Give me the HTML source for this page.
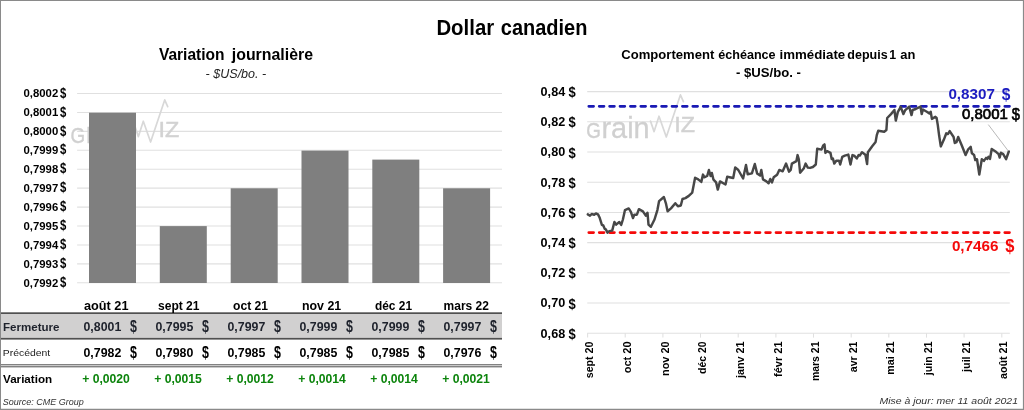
<!DOCTYPE html>
<html lang="fr"><head><meta charset="utf-8"><title>Dollar canadien</title>
<style>html,body{margin:0;padding:0;background:#fff}body{width:1024px;height:410px;overflow:hidden}svg{display:block;will-change:transform}text{font-family:"Liberation Sans", "DejaVu Sans", sans-serif;white-space:pre}</style></head><body>
<svg width="1024" height="410" viewBox="0 0 1024 410">
<rect x="0" y="0" width="1024" height="410" fill="#fff"/>
<g stroke="#e0e0e0" stroke-width="1.1">
<line x1="77.1" y1="93.50" x2="502" y2="93.50"/>
<line x1="77.1" y1="112.43" x2="502" y2="112.43"/>
<line x1="77.1" y1="131.36" x2="502" y2="131.36"/>
<line x1="77.1" y1="150.29" x2="502" y2="150.29"/>
<line x1="77.1" y1="169.22" x2="502" y2="169.22"/>
<line x1="77.1" y1="188.15" x2="502" y2="188.15"/>
<line x1="77.1" y1="207.08" x2="502" y2="207.08"/>
<line x1="77.1" y1="226.01" x2="502" y2="226.01"/>
<line x1="77.1" y1="244.94" x2="502" y2="244.94"/>
<line x1="77.1" y1="263.87" x2="502" y2="263.87"/>
<line x1="77.1" y1="282.80" x2="502" y2="282.80"/>
</g>
<g>
<text font-weight="bold" fill="#000"><tspan x="23.5" y="97.3" font-size="10.4" textLength="34.7" lengthAdjust="spacingAndGlyphs">0,8002</tspan> <tspan x="59.9" y="97.7" font-size="14" textLength="6.3" lengthAdjust="spacingAndGlyphs">$</tspan></text>
<text font-weight="bold" fill="#000"><tspan x="23.5" y="116.23" font-size="10.4" textLength="34.7" lengthAdjust="spacingAndGlyphs">0,8001</tspan> <tspan x="59.9" y="116.63" font-size="14" textLength="6.3" lengthAdjust="spacingAndGlyphs">$</tspan></text>
<text font-weight="bold" fill="#000"><tspan x="23.5" y="135.16" font-size="10.4" textLength="34.7" lengthAdjust="spacingAndGlyphs">0,8000</tspan> <tspan x="59.9" y="135.56" font-size="14" textLength="6.3" lengthAdjust="spacingAndGlyphs">$</tspan></text>
<text font-weight="bold" fill="#000"><tspan x="23.5" y="154.09" font-size="10.4" textLength="34.7" lengthAdjust="spacingAndGlyphs">0,7999</tspan> <tspan x="59.9" y="154.49" font-size="14" textLength="6.3" lengthAdjust="spacingAndGlyphs">$</tspan></text>
<text font-weight="bold" fill="#000"><tspan x="23.5" y="173.02" font-size="10.4" textLength="34.7" lengthAdjust="spacingAndGlyphs">0,7998</tspan> <tspan x="59.9" y="173.42" font-size="14" textLength="6.3" lengthAdjust="spacingAndGlyphs">$</tspan></text>
<text font-weight="bold" fill="#000"><tspan x="23.5" y="191.95" font-size="10.4" textLength="34.7" lengthAdjust="spacingAndGlyphs">0,7997</tspan> <tspan x="59.9" y="192.35" font-size="14" textLength="6.3" lengthAdjust="spacingAndGlyphs">$</tspan></text>
<text font-weight="bold" fill="#000"><tspan x="23.5" y="210.88" font-size="10.4" textLength="34.7" lengthAdjust="spacingAndGlyphs">0,7996</tspan> <tspan x="59.9" y="211.28" font-size="14" textLength="6.3" lengthAdjust="spacingAndGlyphs">$</tspan></text>
<text font-weight="bold" fill="#000"><tspan x="23.5" y="229.81" font-size="10.4" textLength="34.7" lengthAdjust="spacingAndGlyphs">0,7995</tspan> <tspan x="59.9" y="230.21" font-size="14" textLength="6.3" lengthAdjust="spacingAndGlyphs">$</tspan></text>
<text font-weight="bold" fill="#000"><tspan x="23.5" y="248.74" font-size="10.4" textLength="34.7" lengthAdjust="spacingAndGlyphs">0,7994</tspan> <tspan x="59.9" y="249.14" font-size="14" textLength="6.3" lengthAdjust="spacingAndGlyphs">$</tspan></text>
<text font-weight="bold" fill="#000"><tspan x="23.5" y="267.67" font-size="10.4" textLength="34.7" lengthAdjust="spacingAndGlyphs">0,7993</tspan> <tspan x="59.9" y="268.07" font-size="14" textLength="6.3" lengthAdjust="spacingAndGlyphs">$</tspan></text>
<text font-weight="bold" fill="#000"><tspan x="23.5" y="286.6" font-size="10.4" textLength="34.7" lengthAdjust="spacingAndGlyphs">0,7992</tspan> <tspan x="59.9" y="287.0" font-size="14" textLength="6.3" lengthAdjust="spacingAndGlyphs">$</tspan></text>
</g>
<g transform="translate(-515.7,5)">
<text font-weight="normal" fill="#d0d0d0" stroke="#d0d0d0"><tspan x="586.2" y="138" font-size="22" stroke-width="0.4" textLength="14.6" lengthAdjust="spacingAndGlyphs">G</tspan><tspan x="601.5" y="138" font-size="30" stroke-width="0.3" textLength="48.2" lengthAdjust="spacingAndGlyphs">rain</tspan></text>
<polyline points="650.5,121.1 654.1,131.6 659,116.2 666.3,137 680.4,94.9 683.4,101.6" fill="none" stroke="#d8d8d8" stroke-width="1.7" stroke-linejoin="round" stroke-linecap="round"/>
<text x="674.2" y="131.6" font-size="21.4" font-weight="normal" fill="#d2d2d2" stroke="#d2d2d2" stroke-width="0.4" textLength="20.8" lengthAdjust="spacingAndGlyphs">IZ</text>
</g>
<g fill="#7f7f7f">
<rect x="89.0" y="112.7" width="47" height="170.3"/>
<rect x="159.8" y="226.1" width="47" height="56.9"/>
<rect x="230.7" y="188.3" width="47" height="94.7"/>
<rect x="301.5" y="150.6" width="47" height="132.4"/>
<rect x="372.3" y="159.6" width="47" height="123.4"/>
<rect x="443.1" y="188.3" width="47" height="94.7"/>
</g>
<text font-weight="bold" fill="#000"><tspan x="158.9" y="60" font-size="15.6" textLength="65.6" lengthAdjust="spacingAndGlyphs">Variation</tspan> <tspan x="231.8" y="60" font-size="15.6" textLength="81.2" lengthAdjust="spacingAndGlyphs">journalière</tspan></text>
<text x="205.6" y="77.7" font-size="12" font-weight="normal" fill="#222" font-style="italic" textLength="60.6" lengthAdjust="spacingAndGlyphs">- $US/bo. -</text>
<text font-weight="bold" fill="#000"><tspan x="436.4" y="34.7" font-size="21.4" textLength="57.8" lengthAdjust="spacingAndGlyphs">Dollar</tspan> <tspan x="500.8" y="34.7" font-size="21.4" textLength="86.6" lengthAdjust="spacingAndGlyphs">canadien</tspan></text>
<rect x="1" y="313" width="501" height="25.5" fill="#d1d0d0"/>
<g stroke="#4d4d4d" shape-rendering="crispEdges">
<rect x="0" y="312.3" width="502" height="1.7" fill="#505050" stroke="none" shape-rendering="auto"/>
<rect x="0" y="337.9" width="502" height="1.7" fill="#505050" stroke="none" shape-rendering="auto"/>
<rect x="0" y="364.3" width="502" height="1" fill="#4d4d4d" stroke="none" shape-rendering="auto"/>
<rect x="0" y="366.3" width="502" height="1" fill="#4d4d4d" stroke="none" shape-rendering="auto"/>
</g>
<text x="84" y="309.8" font-size="12" font-weight="bold" fill="#000" textLength="44.5" lengthAdjust="spacingAndGlyphs">août 21</text>
<text x="158" y="309.8" font-size="12" font-weight="bold" fill="#000" textLength="41.5" lengthAdjust="spacingAndGlyphs">sept 21</text>
<text x="233" y="309.8" font-size="12" font-weight="bold" fill="#000" textLength="35" lengthAdjust="spacingAndGlyphs">oct 21</text>
<text x="302" y="309.8" font-size="12" font-weight="bold" fill="#000" textLength="39.2" lengthAdjust="spacingAndGlyphs">nov 21</text>
<text x="375" y="309.8" font-size="12" font-weight="bold" fill="#000" textLength="37" lengthAdjust="spacingAndGlyphs">déc 21</text>
<text x="443.6" y="309.8" font-size="12" font-weight="bold" fill="#000" textLength="45.3" lengthAdjust="spacingAndGlyphs">mars 22</text>
<text font-weight="bold" fill="#1e222c"><tspan x="83.5" y="331" font-size="13.1" textLength="37.8" lengthAdjust="spacingAndGlyphs">0,8001</tspan> <tspan x="130.0" y="331.8" font-size="15.8" textLength="6.9" lengthAdjust="spacingAndGlyphs">$</tspan></text>
<text font-weight="bold" fill="#000"><tspan x="83.5" y="356.8" font-size="13.1" textLength="37.8" lengthAdjust="spacingAndGlyphs">0,7982</tspan> <tspan x="130.0" y="357.6" font-size="15.8" textLength="6.9" lengthAdjust="spacingAndGlyphs">$</tspan></text>
<text x="82.2" y="382.8" font-size="13.3" font-weight="bold" fill="#0c840c" textLength="47.7" lengthAdjust="spacingAndGlyphs">+ 0,0020</text>
<text font-weight="bold" fill="#1e222c"><tspan x="155.5" y="331" font-size="13.1" textLength="37.8" lengthAdjust="spacingAndGlyphs">0,7995</tspan> <tspan x="202.0" y="331.8" font-size="15.8" textLength="6.9" lengthAdjust="spacingAndGlyphs">$</tspan></text>
<text font-weight="bold" fill="#000"><tspan x="155.5" y="356.8" font-size="13.1" textLength="37.8" lengthAdjust="spacingAndGlyphs">0,7980</tspan> <tspan x="202.0" y="357.6" font-size="15.8" textLength="6.9" lengthAdjust="spacingAndGlyphs">$</tspan></text>
<text x="154.2" y="382.8" font-size="13.3" font-weight="bold" fill="#0c840c" textLength="47.7" lengthAdjust="spacingAndGlyphs">+ 0,0015</text>
<text font-weight="bold" fill="#1e222c"><tspan x="227.5" y="331" font-size="13.1" textLength="37.8" lengthAdjust="spacingAndGlyphs">0,7997</tspan> <tspan x="274.0" y="331.8" font-size="15.8" textLength="6.9" lengthAdjust="spacingAndGlyphs">$</tspan></text>
<text font-weight="bold" fill="#000"><tspan x="227.5" y="356.8" font-size="13.1" textLength="37.8" lengthAdjust="spacingAndGlyphs">0,7985</tspan> <tspan x="274.0" y="357.6" font-size="15.8" textLength="6.9" lengthAdjust="spacingAndGlyphs">$</tspan></text>
<text x="226.2" y="382.8" font-size="13.3" font-weight="bold" fill="#0c840c" textLength="47.7" lengthAdjust="spacingAndGlyphs">+ 0,0012</text>
<text font-weight="bold" fill="#1e222c"><tspan x="299.5" y="331" font-size="13.1" textLength="37.8" lengthAdjust="spacingAndGlyphs">0,7999</tspan> <tspan x="346.0" y="331.8" font-size="15.8" textLength="6.9" lengthAdjust="spacingAndGlyphs">$</tspan></text>
<text font-weight="bold" fill="#000"><tspan x="299.5" y="356.8" font-size="13.1" textLength="37.8" lengthAdjust="spacingAndGlyphs">0,7985</tspan> <tspan x="346.0" y="357.6" font-size="15.8" textLength="6.9" lengthAdjust="spacingAndGlyphs">$</tspan></text>
<text x="298.2" y="382.8" font-size="13.3" font-weight="bold" fill="#0c840c" textLength="47.7" lengthAdjust="spacingAndGlyphs">+ 0,0014</text>
<text font-weight="bold" fill="#1e222c"><tspan x="371.5" y="331" font-size="13.1" textLength="37.8" lengthAdjust="spacingAndGlyphs">0,7999</tspan> <tspan x="418.0" y="331.8" font-size="15.8" textLength="6.9" lengthAdjust="spacingAndGlyphs">$</tspan></text>
<text font-weight="bold" fill="#000"><tspan x="371.5" y="356.8" font-size="13.1" textLength="37.8" lengthAdjust="spacingAndGlyphs">0,7985</tspan> <tspan x="418.0" y="357.6" font-size="15.8" textLength="6.9" lengthAdjust="spacingAndGlyphs">$</tspan></text>
<text x="370.2" y="382.8" font-size="13.3" font-weight="bold" fill="#0c840c" textLength="47.7" lengthAdjust="spacingAndGlyphs">+ 0,0014</text>
<text font-weight="bold" fill="#1e222c"><tspan x="443.5" y="331" font-size="13.1" textLength="37.8" lengthAdjust="spacingAndGlyphs">0,7997</tspan> <tspan x="490.0" y="331.8" font-size="15.8" textLength="6.9" lengthAdjust="spacingAndGlyphs">$</tspan></text>
<text font-weight="bold" fill="#000"><tspan x="443.5" y="356.8" font-size="13.1" textLength="37.8" lengthAdjust="spacingAndGlyphs">0,7976</tspan> <tspan x="490.0" y="357.6" font-size="15.8" textLength="6.9" lengthAdjust="spacingAndGlyphs">$</tspan></text>
<text x="442.2" y="382.8" font-size="13.3" font-weight="bold" fill="#0c840c" textLength="47.7" lengthAdjust="spacingAndGlyphs">+ 0,0021</text>
<text x="3" y="330.8" font-size="10.8" font-weight="bold" fill="#1e222c" textLength="56.5" lengthAdjust="spacingAndGlyphs">Fermeture</text>
<text x="2.8" y="356" font-size="9.8" font-weight="normal" fill="#222" textLength="47.4" lengthAdjust="spacingAndGlyphs">Précédent</text>
<text x="3" y="382.6" font-size="10.8" font-weight="bold" fill="#000" textLength="49.2" lengthAdjust="spacingAndGlyphs">Variation</text>
<text x="2.8" y="404.6" font-size="9.3" font-weight="normal" fill="#333" font-style="italic" textLength="81" lengthAdjust="spacingAndGlyphs">Source: CME Group</text>
<g stroke="#e0e0e0" stroke-width="1.05">
<line x1="587.2" y1="91.60" x2="1009.8" y2="91.60"/>
<line x1="587.2" y1="121.80" x2="1009.8" y2="121.80"/>
<line x1="587.2" y1="152.00" x2="1009.8" y2="152.00"/>
<line x1="587.2" y1="182.20" x2="1009.8" y2="182.20"/>
<line x1="587.2" y1="212.40" x2="1009.8" y2="212.40"/>
<line x1="587.2" y1="242.60" x2="1009.8" y2="242.60"/>
<line x1="587.2" y1="272.80" x2="1009.8" y2="272.80"/>
<line x1="587.2" y1="303.00" x2="1009.8" y2="303.00"/>
<line x1="587.2" y1="333.20" x2="1009.8" y2="333.20"/>
<line x1="587.6" y1="333.2" x2="587.6" y2="337.6"/>
<line x1="625.2" y1="333.2" x2="625.2" y2="337.6"/>
<line x1="662.9" y1="333.2" x2="662.9" y2="337.6"/>
<line x1="700.5" y1="333.2" x2="700.5" y2="337.6"/>
<line x1="738.2" y1="333.2" x2="738.2" y2="337.6"/>
<line x1="775.9" y1="333.2" x2="775.9" y2="337.6"/>
<line x1="813.5" y1="333.2" x2="813.5" y2="337.6"/>
<line x1="851.2" y1="333.2" x2="851.2" y2="337.6"/>
<line x1="888.8" y1="333.2" x2="888.8" y2="337.6"/>
<line x1="926.5" y1="333.2" x2="926.5" y2="337.6"/>
<line x1="964.1" y1="333.2" x2="964.1" y2="337.6"/>
<line x1="1001.8" y1="333.2" x2="1001.8" y2="337.6"/>
</g>
<text font-weight="bold" fill="#000"><tspan x="540.6" y="96.0" font-size="12.2" textLength="24.6" lengthAdjust="spacingAndGlyphs">0,84</tspan> <tspan x="568.6" y="97.1" font-size="15.2" textLength="7.2" lengthAdjust="spacingAndGlyphs">$</tspan></text>
<text font-weight="bold" fill="#000"><tspan x="540.6" y="126.2" font-size="12.2" textLength="24.6" lengthAdjust="spacingAndGlyphs">0,82</tspan> <tspan x="568.6" y="127.3" font-size="15.2" textLength="7.2" lengthAdjust="spacingAndGlyphs">$</tspan></text>
<text font-weight="bold" fill="#000"><tspan x="540.6" y="156.4" font-size="12.2" textLength="24.6" lengthAdjust="spacingAndGlyphs">0,80</tspan> <tspan x="568.6" y="157.5" font-size="15.2" textLength="7.2" lengthAdjust="spacingAndGlyphs">$</tspan></text>
<text font-weight="bold" fill="#000"><tspan x="540.6" y="186.6" font-size="12.2" textLength="24.6" lengthAdjust="spacingAndGlyphs">0,78</tspan> <tspan x="568.6" y="187.7" font-size="15.2" textLength="7.2" lengthAdjust="spacingAndGlyphs">$</tspan></text>
<text font-weight="bold" fill="#000"><tspan x="540.6" y="216.8" font-size="12.2" textLength="24.6" lengthAdjust="spacingAndGlyphs">0,76</tspan> <tspan x="568.6" y="217.9" font-size="15.2" textLength="7.2" lengthAdjust="spacingAndGlyphs">$</tspan></text>
<text font-weight="bold" fill="#000"><tspan x="540.6" y="247.0" font-size="12.2" textLength="24.6" lengthAdjust="spacingAndGlyphs">0,74</tspan> <tspan x="568.6" y="248.1" font-size="15.2" textLength="7.2" lengthAdjust="spacingAndGlyphs">$</tspan></text>
<text font-weight="bold" fill="#000"><tspan x="540.6" y="277.2" font-size="12.2" textLength="24.6" lengthAdjust="spacingAndGlyphs">0,72</tspan> <tspan x="568.6" y="278.3" font-size="15.2" textLength="7.2" lengthAdjust="spacingAndGlyphs">$</tspan></text>
<text font-weight="bold" fill="#000"><tspan x="540.6" y="307.4" font-size="12.2" textLength="24.6" lengthAdjust="spacingAndGlyphs">0,70</tspan> <tspan x="568.6" y="308.5" font-size="15.2" textLength="7.2" lengthAdjust="spacingAndGlyphs">$</tspan></text>
<text font-weight="bold" fill="#000"><tspan x="540.6" y="337.6" font-size="12.2" textLength="24.6" lengthAdjust="spacingAndGlyphs">0,68</tspan> <tspan x="568.6" y="338.7" font-size="15.2" textLength="7.2" lengthAdjust="spacingAndGlyphs">$</tspan></text>
<g transform="translate(0,0)">
<text font-weight="normal" fill="#d0d0d0" stroke="#d0d0d0"><tspan x="586.2" y="138" font-size="22" stroke-width="0.4" textLength="14.6" lengthAdjust="spacingAndGlyphs">G</tspan><tspan x="601.5" y="138" font-size="30" stroke-width="0.3" textLength="48.2" lengthAdjust="spacingAndGlyphs">rain</tspan></text>
<polyline points="650.5,121.1 654.1,131.6 659,116.2 666.3,137 680.4,94.9 683.4,101.6" fill="none" stroke="#d8d8d8" stroke-width="1.7" stroke-linejoin="round" stroke-linecap="round"/>
<text x="674.2" y="131.6" font-size="21.4" font-weight="normal" fill="#d2d2d2" stroke="#d2d2d2" stroke-width="0.4" textLength="20.8" lengthAdjust="spacingAndGlyphs">IZ</text>
</g>
<text font-weight="bold" fill="#000"><tspan x="621.3" y="58.7" font-size="12.4" textLength="93.0" lengthAdjust="spacingAndGlyphs">Comportement</tspan> <tspan x="718.2" y="58.7" font-size="12.4" textLength="57.4" lengthAdjust="spacingAndGlyphs">échéance</tspan> <tspan x="779.6" y="58.7" font-size="12.4" textLength="65.6" lengthAdjust="spacingAndGlyphs">immédiate</tspan> <tspan x="847.3" y="58.7" font-size="12.4" textLength="40.3" lengthAdjust="spacingAndGlyphs">depuis</tspan> <tspan x="889.2" y="58.7" font-size="12.4" textLength="6.9" lengthAdjust="spacingAndGlyphs">1</tspan> <tspan x="900.2" y="58.7" font-size="12.4" textLength="15.1" lengthAdjust="spacingAndGlyphs">an</tspan></text>
<text x="736" y="76.8" font-size="12.5" font-weight="bold" fill="#000" textLength="65" lengthAdjust="spacingAndGlyphs">- $US/bo. -</text>
<line x1="587.5" y1="106.3" x2="1009.5" y2="106.3" stroke="#1a1ab4" stroke-width="2.7" stroke-dasharray="4.8,5.6" stroke-dashoffset="-1.3" stroke-linecap="round"/>
<line x1="587.5" y1="232.6" x2="1009.5" y2="232.6" stroke="#f40a0a" stroke-width="2.7" stroke-dasharray="4.8,5.6" stroke-dashoffset="-1.3" stroke-linecap="round"/>
<polyline points="587.8,214.4 590,215.7 591.7,214 594.2,214.7 595.9,213.5 598,214.4 599.7,217.8 601.9,224.9 603.3,225.5 604.8,228.9 605.8,229.4 607.5,232.6 609.3,231.1 612.2,230.6 614.4,222 616.1,224.6 619.3,222 621.2,224.9 622.9,219.5 625,210.1 628.7,208.4 630.9,211.8 633,218.1 634.3,214.7 636.9,214.7 638.9,209.2 642.9,211.3 645.8,215.7 647.5,212.7 648.5,224.6 650.9,226.8 654.5,219.5 657.4,210.1 659.1,201.1 663.9,197 665.9,203.3 667.6,211.3 671,208.4 675.3,203.3 677.9,206.2 680.8,205.5 682.5,199 685.4,198.1 688.8,195.9 692.2,192.7 695.1,177.7 698.2,179.4 701.3,181.9 703,174.6 704.2,177.3 707.2,176 708.9,170 710.6,176 711.8,172.9 713.5,179.7 716.1,182.4 717.8,189.6 720,181.4 725.5,184.5 727.2,176.8 733.2,178 735.2,167.4 738.3,170 743.1,178.5 746,164.9 747.7,174.2 751.9,173.4 754.8,164 757.1,173.4 760.1,175.6 761.3,170 763,179.4 766.4,181.4 768.6,183.3 770.3,179 772,182.4 773.7,177.3 777.1,174.7 779.3,169.9 782.7,171.3 786.1,163.6 789,171.7 790.7,169.9 791.9,163.6 796.4,161.1 797.6,155.1 798.8,159.4 800.1,172.7 803.9,168.2 805.6,163.6 807.8,167.6 810,167.9 812.9,167 815.8,164.5 817.2,148.8 821.5,149.6 823.2,145.4 824.5,144.4 825.4,152.9 827.1,151.2 830.5,152.9 831.7,159 832.9,158.5 834.3,163.6 836.3,160.7 839,160.7 840.2,164.5 842.3,156.8 844.8,155.6 848.3,154.6 850.5,164.5 852.5,155.1 854.2,155.6 856.8,158.5 858.6,155.1 859.8,155.6 862,152.2 865.4,154.7 867.1,164.1 867.9,152.2 872.2,146.2 875.6,141.9 876.8,135.1 878.2,130.8 884.2,131.7 886.4,130 887.2,118 891,114.1 894.4,110 895.8,120.6 897.8,112.1 900.7,106.9 903.4,114.1 905,110.4 909.2,106.6 911.5,115.1 912.7,110 915.7,109 920.5,106.6 921.7,114.1 922.9,109.5 926.8,111.7 929.4,113.4 930.7,111.7 931.9,118.9 935.4,116.8 936.6,117.9 937.8,125.1 939.1,135.3 940.8,146.4 943.9,139.6 946.3,133.3 948,134 949.7,131.1 953.6,137 954.8,143 956.5,142.2 958.2,137 961.7,145.2 965.6,155 968.2,149.3 970.7,146.9 971.9,153.3 974.1,155 975.3,160.1 977,159.2 979.3,174.6 981.8,159.2 983.9,160.9 986.1,157.9 987.3,158.9 988.6,156.7 990,158.9 991.7,149 996.3,152.1 998.6,154.1 999.7,157.5 1000.9,152.7 1003.2,154.1 1006.1,159.2 1008.8,151.5" fill="none" stroke="#474747" stroke-width="2.45" stroke-linejoin="round" stroke-linecap="round"/>
<line x1="988.3" y1="124.6" x2="1008.3" y2="151" stroke="#b0b0b0" stroke-width="0.9"/>
<text font-weight="bold" fill="#1c1cc0"><tspan x="948.4" y="98.9" font-size="14.4" textLength="46.6" lengthAdjust="spacingAndGlyphs">0,8307</tspan> <tspan x="1001.7" y="99.5" font-size="17.4" textLength="8.6" lengthAdjust="spacingAndGlyphs">$</tspan></text>
<text font-weight="normal" fill="#000" stroke="#000" stroke-width="0.65"><tspan x="962" y="118.8" font-size="14" textLength="45.8" lengthAdjust="spacingAndGlyphs">0,8001</tspan> <tspan x="1011.8" y="119.6" font-size="17.4" textLength="8.2" lengthAdjust="spacingAndGlyphs">$</tspan></text>
<text font-weight="bold" fill="#f40a0a"><tspan x="951.9" y="251" font-size="14.4" textLength="46.6" lengthAdjust="spacingAndGlyphs">0,7466</tspan> <tspan x="1005.2" y="251.6" font-size="17.6" textLength="9.2" lengthAdjust="spacingAndGlyphs">$</tspan></text>
<text transform="translate(593.2,341.5) rotate(-90)" text-anchor="end" font-size="10.6" font-weight="bold" fill="#000" textLength="36.8" lengthAdjust="spacingAndGlyphs">sept 20</text>
<text transform="translate(630.9,341.5) rotate(-90)" text-anchor="end" font-size="10.6" font-weight="bold" fill="#000" textLength="31.8" lengthAdjust="spacingAndGlyphs">oct 20</text>
<text transform="translate(668.5,341.5) rotate(-90)" text-anchor="end" font-size="10.6" font-weight="bold" fill="#000" textLength="34.4" lengthAdjust="spacingAndGlyphs">nov 20</text>
<text transform="translate(706.2,341.5) rotate(-90)" text-anchor="end" font-size="10.6" font-weight="bold" fill="#000" textLength="32.4" lengthAdjust="spacingAndGlyphs">déc 20</text>
<text transform="translate(743.8,341.5) rotate(-90)" text-anchor="end" font-size="10.6" font-weight="bold" fill="#000" textLength="36.4" lengthAdjust="spacingAndGlyphs">janv 21</text>
<text transform="translate(781.5,341.5) rotate(-90)" text-anchor="end" font-size="10.6" font-weight="bold" fill="#000" textLength="35.4" lengthAdjust="spacingAndGlyphs">févr 21</text>
<text transform="translate(819.1,341.5) rotate(-90)" text-anchor="end" font-size="10.6" font-weight="bold" fill="#000" textLength="39.6" lengthAdjust="spacingAndGlyphs">mars 21</text>
<text transform="translate(856.8,341.5) rotate(-90)" text-anchor="end" font-size="10.6" font-weight="bold" fill="#000" textLength="30.8" lengthAdjust="spacingAndGlyphs">avr 21</text>
<text transform="translate(894.4,341.5) rotate(-90)" text-anchor="end" font-size="10.6" font-weight="bold" fill="#000" textLength="33.2" lengthAdjust="spacingAndGlyphs">mai 21</text>
<text transform="translate(932.0,341.5) rotate(-90)" text-anchor="end" font-size="10.6" font-weight="bold" fill="#000" textLength="33.8" lengthAdjust="spacingAndGlyphs">juin 21</text>
<text transform="translate(969.7,341.5) rotate(-90)" text-anchor="end" font-size="10.6" font-weight="bold" fill="#000" textLength="30.4" lengthAdjust="spacingAndGlyphs">juil 21</text>
<text transform="translate(1007.4,341.5) rotate(-90)" text-anchor="end" font-size="10.6" font-weight="bold" fill="#000" textLength="37.6" lengthAdjust="spacingAndGlyphs">août 21</text>
<text x="879.4" y="404" font-size="9.3" font-weight="normal" fill="#333" font-style="italic" textLength="138.6" lengthAdjust="spacingAndGlyphs">Mise à jour: mer 11 août 2021</text>
<path d="M0 0H1024V410H0Z M1 1.1V408.7H1022.9V1.1Z" fill="#8a8a8a" fill-rule="evenodd"/>
</svg></body></html>
